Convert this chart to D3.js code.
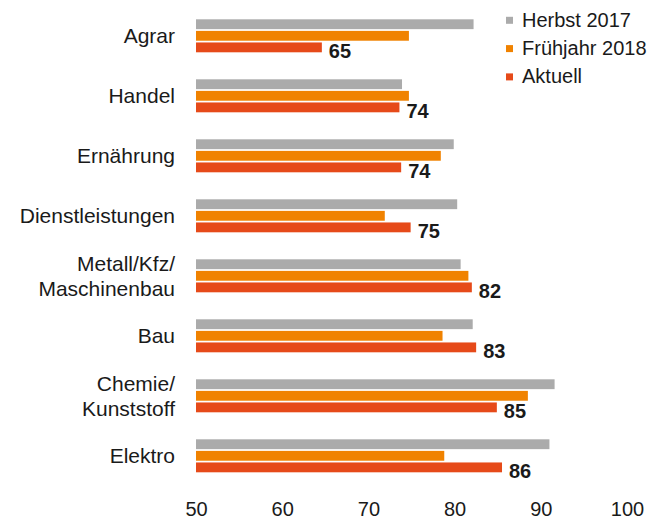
<!DOCTYPE html>
<html>
<head>
<meta charset="utf-8">
<script src="https://cdn.jsdelivr.net/npm/d3@7"></script>
<style>
  body { margin: 0; background: #fff; }
  text { font-family: "Liberation Sans", Arial, sans-serif; fill: #1a1a1a; }
</style>
</head>
<body>
<div id="chart"></div>
<script>
var categories = ["Agrar", "Handel", "Ernährung", "Dienstleistungen", "Metall/Kfz/\nMaschinenbau", "Bau", "Chemie/\nKunststoff", "Elektro"];
var seriesNames = ["Herbst 2017", "Frühjahr 2018", "Aktuell"];
var herbst2017 = [82.2, 73.9, 79.9, 80.3, 80.7, 82.1, 91.6, 91.0];
var fruehjahr2018 = [74.7, 74.7, 78.4, 71.9, 81.6, 78.6, 88.5, 78.8];
var aktuell = [64.6, 73.6, 73.8, 74.9, 82.0, 82.5, 84.9, 85.5];
var aktuellLabels = ["65", "74", "74", "75", "82", "83", "85", "86"];
var xTicks = [50, 60, 70, 80, 90, 100];
var colors = ["#ababab", "#f08200", "#e64a19"];

var svg, x, y, ySub;

function drawChart() {
    var width = 666, height = 522;

    svg = d3.select("#chart")
      .append("svg")
        .attr("width", width)
        .attr("height", height);

    x = d3.scaleLinear()
        .domain([50, 100])
        .range([196, 627]);

    y = d3.scaleBand()
        .domain(categories)
        .range([5.8, 485.8])
        .paddingInner(0.45)
        .paddingOuter(0.225);

    ySub = d3.scaleBand()
        .domain(seriesNames)
        .range([0, y.bandwidth()])
        .paddingInner(0.15);

    var rows = categories.map(function(c, i) {
        return {cat: c, values: [herbst2017[i], fruehjahr2018[i], aktuell[i]], label: aktuellLabels[i]};
    });

    var groups = svg.selectAll("g.group")
        .data(rows)
        .enter()
      .append("g")
        .attr("class", "group")
        .attr("transform", function(d) { return "translate(0," + y(d.cat) + ")"; });

    groups.selectAll("rect")
        .data(function(d) { return d.values.map(function(v, k) { return {name: seriesNames[k], value: v, k: k}; }); })
        .enter()
      .append("rect")
        .attr("x", x(50))
        .attr("y", function(d) { return ySub(d.name); })
        .attr("width", function(d) { return x(d.value) - x(50); })
        .attr("height", ySub.bandwidth())
        .attr("fill", function(d) { return colors[d.k]; });

    // value labels next to the current bar
    groups.append("text")
        .attr("x", function(d) { return x(d.values[2]) + 7; })
        .attr("y", ySub("Aktuell") + ySub.bandwidth() / 2 + 11)
        .style("font-size", "20px")
        .style("font-weight", "bold")
        .text(function(d) { return d.label; });

    // category labels (some on two lines)
    groups.append("text")
        .attr("text-anchor", "end")
        .attr("x", 175)
        .attr("y", y.bandwidth() / 2)
        .style("font-size", "21px")
        .each(function(d) {
            var lines = d.cat.split("\n");
            var t = d3.select(this);
            var lh = 25.5;
            var start = -(lines.length - 1) * lh / 2 + 7.5;
            lines.forEach(function(line, j) {
                t.append("tspan")
                    .attr("x", 175)
                    .attr("dy", j === 0 ? start : lh)
                    .text(line);
            });
        });

    // x axis, labels only
    var xAxis = svg.append("g")
        .attr("transform", "translate(0,500)")
        .call(d3.axisBottom(x).tickValues(xTicks).tickSize(0).tickPadding(0));
    xAxis.select(".domain").remove();
    xAxis.selectAll("text")
        .attr("dy", "0.71em")
        .attr("y", 2)
        .style("font-size", "20px")
        .style("font-family", "\"Liberation Sans\", Arial, sans-serif")
        .attr("fill", "#1a1a1a");

    // legend
    var legend = svg.selectAll("g.legend")
        .data(seriesNames)
        .enter()
      .append("g")
        .attr("class", "legend")
        .attr("transform", function(d, i) { return "translate(506," + (20.3 + i * 28.3) + ")"; });

    legend.append("rect")
        .attr("x", 0)
        .attr("y", -3.5)
        .attr("width", 7)
        .attr("height", 7)
        .attr("fill", function(d, i) { return colors[i]; });

    legend.append("text")
        .attr("x", 16)
        .attr("y", 6.5)
        .style("font-size", "20px")
        .text(function(d) { return d; });
}

drawChart();
</script>
</body>
</html>
